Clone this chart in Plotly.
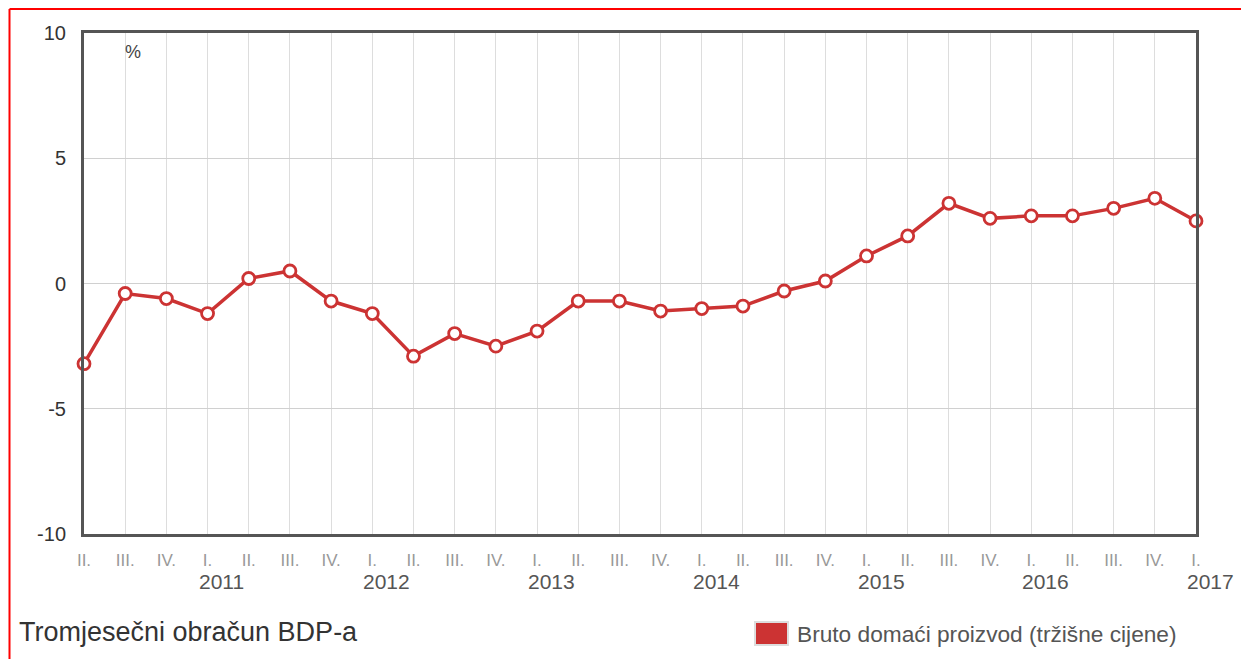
import plotly.graph_objects as go

quarters = ["II.", "III.", "IV.",
            "I.", "II.", "III.", "IV.",
            "I.", "II.", "III.", "IV.",
            "I.", "II.", "III.", "IV.",
            "I.", "II.", "III.", "IV.",
            "I.", "II.", "III.", "IV.",
            "I.", "II.", "III.", "IV.",
            "I."]
years = ["", "", "",
         "2011", "", "", "",
         "2012", "", "", "",
         "2013", "", "", "",
         "2014", "", "", "",
         "2015", "", "", "",
         "2016", "", "", "",
         "2017"]
gdp = [-3.2, -0.4, -0.6, -1.2, 0.2, 0.5, -0.7, -1.2, -2.9, -2.0, -2.5, -1.9,
       -0.7, -0.7, -1.1, -1.0, -0.9, -0.3, 0.1, 1.1, 1.9, 3.2, 2.6, 2.7,
       2.7, 3.0, 3.4, 2.5]
series_name = "Bruto domaći proizvod (tržišne cijene)"
chart_title = "Tromjesečni obračun BDP-a"

idx = list(range(len(gdp)))
RED = "#cc3333"
FONT = "Arial, Liberation Sans"

fig = go.Figure()
fig.add_trace(go.Scatter(
    x=idx, y=gdp, mode="lines+markers", name=series_name,
    line=dict(color=RED, width=3.5),
    marker=dict(size=12, color="white", line=dict(color=RED, width=2.8)),
    cliponaxis=False, showlegend=False,
))

# plot area in pixels: x 84..1196, y 33..534
L, R, T, B = 84, 1196, 33, 534
W, H = 1241, 659
def px(x):
    return (x - L) / (R - L)
def py(y):
    return (B - y) / (B - T)

annotations = []
for i, yr in enumerate(years):
    if yr:
        annotations.append(dict(x=i, y=0, xref="x", yref="paper", text=yr,
                                showarrow=False, xanchor="left", yanchor="middle",
                                xshift=-11, yshift=-47,
                                font=dict(family=FONT, size=21, color="#555")))
annotations.append(dict(x=px(133), y=py(52), xref="paper", yref="paper", text="%",
                        showarrow=False, xanchor="center", yanchor="middle",
                        font=dict(family=FONT, size=18, color="#444")))
annotations.append(dict(x=px(17), y=py(632), xref="paper", yref="paper", text=chart_title,
                        showarrow=False, xanchor="left", yanchor="middle",
                        font=dict(family=FONT, size=27, color="#333")))
annotations.append(dict(x=px(795), y=py(634), xref="paper", yref="paper", text=series_name,
                        showarrow=False, xanchor="left", yanchor="middle",
                        font=dict(family=FONT, size=22.7, color="#555")))

shapes = [
    dict(type="rect", xref="paper", yref="paper",
         x0=px(755), x1=px(788), y0=py(645), y1=py(622),
         fillcolor=RED, line=dict(color="#dddddd", width=2)),
    dict(type="line", xref="paper", yref="paper",
         x0=px(9.5), x1=px(W + 5), y0=py(9), y1=py(9),
         line=dict(color="#ff0000", width=2)),
    dict(type="line", xref="paper", yref="paper",
         x0=px(9.5), x1=px(9.5), y0=py(9), y1=py(H + 5),
         line=dict(color="#ff0000", width=2)),
]

fig.update_layout(
    width=W, height=H,
    margin=dict(l=L, r=W - R, t=T, b=H - B, pad=0),
    paper_bgcolor="white", plot_bgcolor="white",
    font=dict(family=FONT, color="#333"),
    annotations=annotations, shapes=shapes,
    xaxis=dict(range=[0, len(gdp) - 1], tickmode="array", tickvals=idx, ticktext=quarters,
               showgrid=True, gridcolor="#dddddd", gridwidth=1,
               showline=True, linecolor="#555", linewidth=3, mirror=True,
               ticks="", zeroline=False, ticklabelstandoff=9,
               tickfont=dict(family=FONT, size=17, color="#999")),
    yaxis=dict(range=[-10, 10], tickmode="array", tickvals=[-10, -5, 0, 5, 10],
               ticktext=["-10", "-5", "0", "5", "10"],
               showgrid=True, gridcolor="#d0d0d0", gridwidth=1,
               showline=True, linecolor="#555", linewidth=3, mirror=True,
               ticks="", zeroline=False, ticklabelstandoff=11,
               tickfont=dict(family=FONT, size=20, color="#333")),
)

fig.write_html("out.html", config={"displayModeBar": False},
               post_script="document.body.style.margin='0';")
